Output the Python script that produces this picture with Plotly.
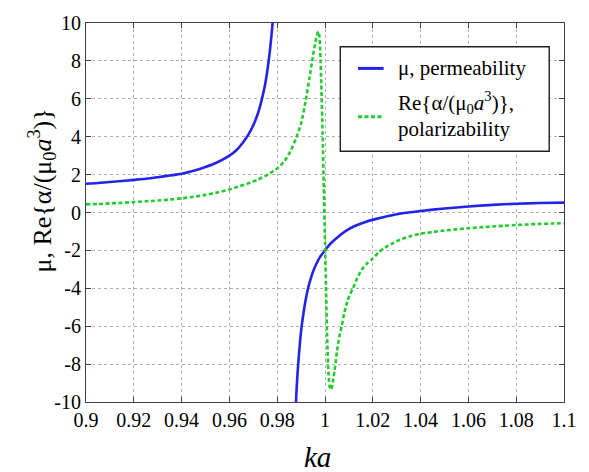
import plotly.graph_objects as go

# permeability, two branches either side of the magnetic resonance
ka_mu_lo = [0.900, 0.905, 0.910, 0.915, 0.920, 0.925, 0.930, 0.935, 0.940,
            0.945, 0.950, 0.955, 0.960, 0.963, 0.966, 0.968, 0.970, 0.972,
            0.973, 0.974, 0.975, 0.976, 0.977, 0.978, 0.9785]
mu_lo = [1.52, 1.56, 1.61, 1.66, 1.72, 1.78, 1.86, 1.95, 2.04,
         2.20, 2.40, 2.65, 3.00, 3.30, 3.75, 4.12, 4.60, 5.25,
         5.68, 6.20, 6.80, 7.60, 8.60, 9.90, 10.8]

ka_mu_hi = [0.9876, 0.988, 0.9885, 0.989, 0.990, 0.991, 0.992, 0.993, 0.994,
            0.995, 0.9965, 0.998, 1.000, 1.002, 1.005, 1.0086, 1.012, 1.016,
            1.021, 1.027, 1.033, 1.040, 1.050, 1.060, 1.070, 1.080, 1.090,
            1.100]
mu_hi = [-10.8, -9.6, -8.5, -7.65, -6.25, -5.30, -4.55, -3.95, -3.50,
         -3.12, -2.68, -2.33, -2.00, -1.68, -1.33, -0.98, -0.74, -0.54,
         -0.35, -0.17, -0.03, 0.08, 0.21, 0.32, 0.40, 0.46, 0.50,
         0.52]

# real part of the normalized polarizability
ka_alpha = [0.900, 0.905, 0.910, 0.915, 0.920, 0.925, 0.930, 0.935, 0.940,
            0.945, 0.950, 0.955, 0.960, 0.964, 0.968, 0.972, 0.976, 0.980,
            0.983, 0.9855, 0.988, 0.990, 0.992, 0.9935, 0.995, 0.996, 0.9967,
            0.9972, 0.9976, 0.9980, 0.9985, 0.9990, 0.9995, 1.0000, 1.0005,
            1.0010, 1.0015, 1.0020, 1.0025, 1.0030, 1.0035, 1.0040, 1.0050,
            1.0060, 1.0070, 1.0080, 1.0093, 1.0105, 1.0117, 1.0135, 1.0155,
            1.0175, 1.0200, 1.0225, 1.0251, 1.0280, 1.0306, 1.035, 1.0395,
            1.045, 1.050, 1.055, 1.0597, 1.065, 1.070, 1.075, 1.0797, 1.085,
            1.090, 1.095, 1.100]
re_alpha = [0.43, 0.45, 0.48, 0.51, 0.55, 0.59, 0.63, 0.68, 0.75,
            0.83, 0.93, 1.06, 1.22, 1.38, 1.54, 1.74, 2.00, 2.32,
            2.70, 3.22, 3.95, 4.70, 5.95, 7.10, 8.30, 9.00, 9.38,
            9.55, 9.35, 8.55, 6.50, 4.20, 1.30, -1.60, -4.50,
            -7.00, -8.60, -9.22, -9.35, -9.15, -8.75, -8.35, -7.35,
            -6.55, -6.00, -5.35, -4.70, -4.30, -4.00, -3.45, -3.00,
            -2.70, -2.43, -2.10, -1.85, -1.65, -1.48, -1.28, -1.13,
            -1.03, -0.95, -0.89, -0.83, -0.78, -0.74, -0.70, -0.66, -0.63,
            -0.60, -0.58, -0.56]

x_ticks = [0.9, 0.92, 0.94, 0.96, 0.98, 1.0, 1.02, 1.04, 1.06, 1.08, 1.1]
x_tick_text = ["0.9", "0.92", "0.94", "0.96", "0.98", "1",
               "1.02", "1.04", "1.06", "1.08", "1.1"]
y_ticks = [10, 8, 6, 4, 2, 0, -2, -4, -6, -8, -10]
y_tick_text = ["10", "8", "6", "4", "2", "0", "-2", "-4", "-6", "-8", "-10"]

BLUE = "#2424e8"
GREEN = "#22cc2e"
SERIF = "Liberation Serif"

W, H = 589, 472
L, R, T, B = 86, 18, 18, 70
PW, PH = W - L - R, H - T - B


def px(x):
    return (x - L) / PW


def py(y):
    return (H - B - y) / PH


fig = go.Figure()
fig.add_trace(go.Scatter(x=ka_mu_lo, y=mu_lo, mode="lines",
                         line=dict(color=BLUE, width=2.6, shape="spline", smoothing=0.8),
                         showlegend=False))
fig.add_trace(go.Scatter(x=ka_mu_hi, y=mu_hi, mode="lines",
                         line=dict(color=BLUE, width=2.6, shape="spline", smoothing=0.8),
                         showlegend=False))
fig.add_trace(go.Scatter(x=ka_alpha, y=re_alpha, mode="lines",
                         line=dict(color=GREEN, width=2.6, dash="4px,2.5px",
                                   shape="spline", smoothing=0.6),
                         showlegend=False))

axis_common = dict(
    showgrid=True, gridcolor="#b0b0b0", griddash="dot", gridwidth=1,
    showline=True, linecolor="#404040", linewidth=1.2, mirror="ticks",
    ticks="inside", ticklen=5, tickcolor="#404040", zeroline=False,
    tickfont=dict(family=SERIF, size=20, color="black"),
)
fig.update_xaxes(range=[0.9, 1.1], tickvals=x_ticks, ticktext=x_tick_text, **axis_common)
fig.update_yaxes(range=[-10, 10], tickvals=y_ticks, ticktext=y_tick_text, **axis_common)

shapes = [
    dict(type="rect", xref="paper", yref="paper",
         x0=px(344), x1=px(556), y0=py(148), y1=py(42),
         line=dict(color="#202020", width=1.4), fillcolor="white", layer="above"),
    dict(type="line", xref="paper", yref="paper",
         x0=px(362), x1=px(388), y0=py(64), y1=py(64),
         line=dict(color=BLUE, width=3), layer="above"),
    dict(type="line", xref="paper", yref="paper",
         x0=px(362), x1=px(388), y0=py(113), y1=py(113),
         line=dict(color=GREEN, width=3, dash="4px,2.5px"), layer="above"),
]

ann_font = dict(family=SERIF, size=21, color="black")
annotations = [
    dict(text="μ, permeability", xref="paper", yref="paper",
         x=px(401), y=py(64), xanchor="left", yanchor="middle",
         showarrow=False, font=ann_font),
    dict(text="Re{α/(μ<sub>0</sub><i>a</i><sup>3</sup>)},", xref="paper", yref="paper",
         x=px(401), y=py(99), xanchor="left", yanchor="middle",
         showarrow=False, font=ann_font),
    dict(text="polarizability", xref="paper", yref="paper",
         x=px(401), y=py(125), xanchor="left", yanchor="middle",
         showarrow=False, font=ann_font),
    dict(text="<i>ka</i>", xref="paper", yref="paper",
         x=px(321), y=py(458), xanchor="center", yanchor="middle",
         showarrow=False, font=dict(family=SERIF, size=29, color="black")),
    dict(text="μ, Re{α/(μ<sub>0</sub><i>a</i><sup>3</sup>)}", xref="paper", yref="paper",
         x=px(41), y=py(188), xanchor="center", yanchor="middle", textangle=-90,
         showarrow=False, font=dict(family=SERIF, size=26, color="black")),
]

fig.update_layout(
    width=W, height=H,
    margin=dict(l=L, r=R, t=T, b=B),
    paper_bgcolor="white", plot_bgcolor="white",
    font=dict(family=SERIF),
    shapes=shapes, annotations=annotations,
    showlegend=False,
)

fig.write_html("out.html")
